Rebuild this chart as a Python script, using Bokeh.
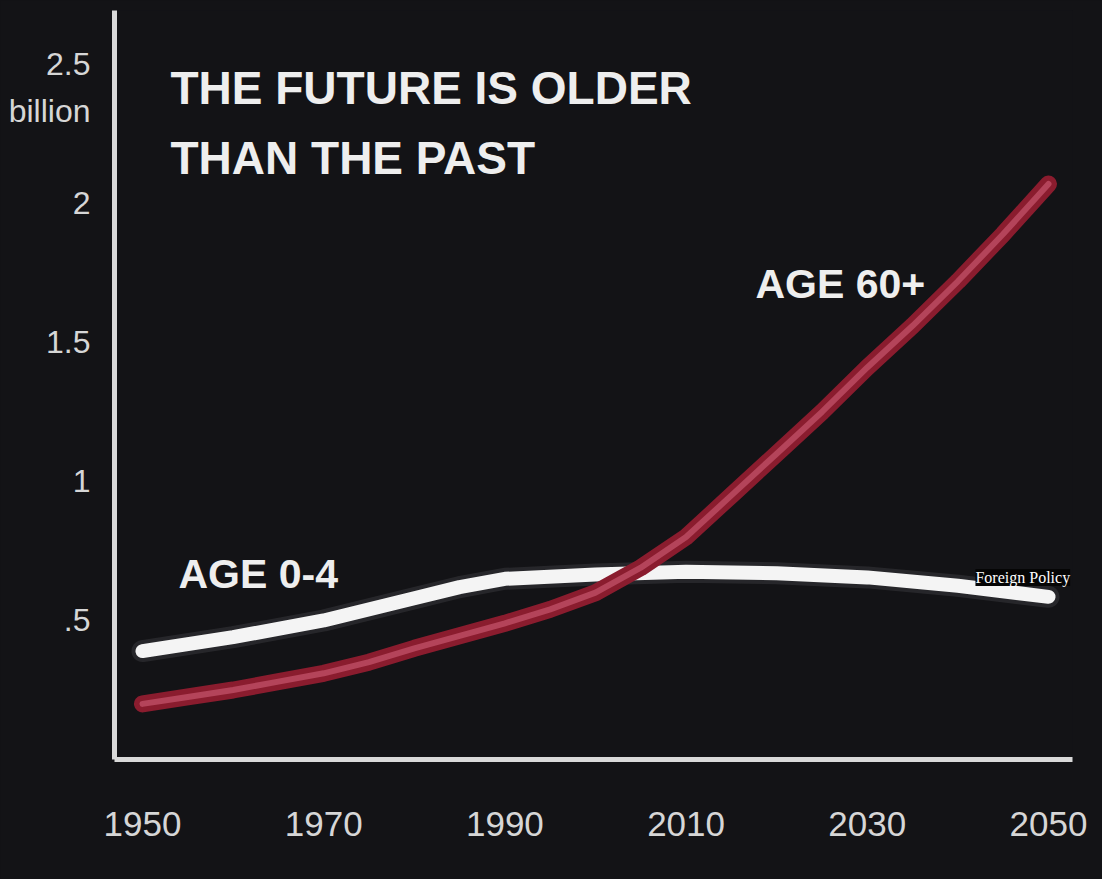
from bokeh.plotting import figure
from bokeh.models import FixedTicker, Label, Range1d
from bokeh.embed import file_html
from bokeh.resources import INLINE

# ---- data (billions) ----
years_young = [1950, 1960, 1970, 1980, 1985, 1990, 2000, 2010, 2020, 2030, 2040, 2050]
age_0_4 = [0.39, 0.44, 0.50, 0.58, 0.62, 0.65, 0.665, 0.675, 0.67, 0.655, 0.625, 0.585]

years_old = [1950, 1955, 1960, 1965, 1970, 1975, 1980, 1985, 1990, 1995, 2000,
             2005, 2010, 2015, 2020, 2025, 2030, 2035, 2040, 2045, 2050]
age_60_plus = [0.20, 0.225, 0.25, 0.28, 0.31, 0.35, 0.40, 0.445, 0.49, 0.54, 0.60,
               0.69, 0.80, 0.95, 1.10, 1.25, 1.41, 1.56, 1.72, 1.89, 2.07]

x_ticks = [1950, 1970, 1990, 2010, 2030, 2050]
y_ticks = [0.5, 1, 1.5, 2, 2.334, 2.5]
y_tick_labels = {0.5: ".5", 1: "1", 1.5: "1.5", 2: "2", 2.334: "billion", 2.5: "2.5"}

title_lines = ["THE FUTURE IS OLDER", "THAN THE PAST"]
series_labels = ["AGE 0-4", "AGE 60+"]
credit = "Foreign Policy"

FONT = "Liberation Sans"
BG = "#131316"

p = figure(width=1102, height=879, output_backend="svg", toolbar_location=None,
           x_range=Range1d(1946.91, 2052.65), y_range=Range1d(0, 2.694),
           min_border_left=114, min_border_right=30, min_border_top=10,
           min_border_bottom=120)
p.styles = {"background-color": BG}
p.background_fill_color = BG
p.border_fill_color = BG
p.outline_line_color = None
p.xgrid.visible = False
p.ygrid.visible = False

for ax in (p.xaxis[0], p.yaxis[0]):
    ax.axis_line_color = "#d9d9d9"
    ax.axis_line_width = 5
    ax.major_tick_line_color = None
    ax.minor_tick_line_color = None
    ax.major_tick_out = 0
    ax.major_tick_in = 0
    ax.major_label_text_color = "#d6d6d6"
    ax.major_label_text_font = FONT

p.xaxis.ticker = FixedTicker(ticks=x_ticks)
p.xaxis.major_label_text_font_size = "35px"
p.xaxis.major_label_standoff = 52

p.yaxis.ticker = FixedTicker(ticks=y_ticks)
p.yaxis.major_label_overrides = y_tick_labels
p.yaxis.major_label_text_font_size = "32px"
p.yaxis.major_label_standoff = 24

# lines
p.line(years_young, age_0_4, line_color="#3a3a3e", line_width=22, line_alpha=0.5,
       line_cap="round", line_join="round")
p.line(years_young, age_0_4, line_color="#f4f4f4", line_width=14,
       line_cap="round", line_join="round")
p.line(years_old, age_60_plus, line_color="#8a1c2e", line_width=17,
       line_cap="round", line_join="round")
p.line(years_old, age_60_plus, line_color="#b4445a", line_width=6,
       line_cap="round", line_join="round")

# texts
p.add_layout(Label(x=1953.09, y=2.414, text=title_lines[0], text_font=FONT,
                   text_font_size="46px", text_font_style="bold",
                   text_color="#eeeeee", text_baseline="alphabetic"))
p.add_layout(Label(x=1953.09, y=2.162, text=title_lines[1], text_font=FONT,
                   text_font_size="46px", text_font_style="bold",
                   text_color="#eeeeee", text_baseline="alphabetic"))
p.add_layout(Label(x=1953.97, y=0.669, text=series_labels[0], text_font=FONT,
                   text_font_size="41px", text_font_style="bold",
                   text_color="#eeeeee", text_baseline="alphabetic"))
p.add_layout(Label(x=2017.66, y=1.709, text=series_labels[1], text_font=FONT,
                   text_font_size="41px", text_font_style="bold",
                   text_color="#eeeeee", text_baseline="alphabetic"))
p.add_layout(Label(x=2041.94, y=0.655, text=credit, text_font="Liberation Serif",
                   text_font_size="16px", text_color="#ffffff",
                   text_baseline="alphabetic", background_fill_color="#050505"))

open("out.html", "w").write(file_html(p, INLINE))
